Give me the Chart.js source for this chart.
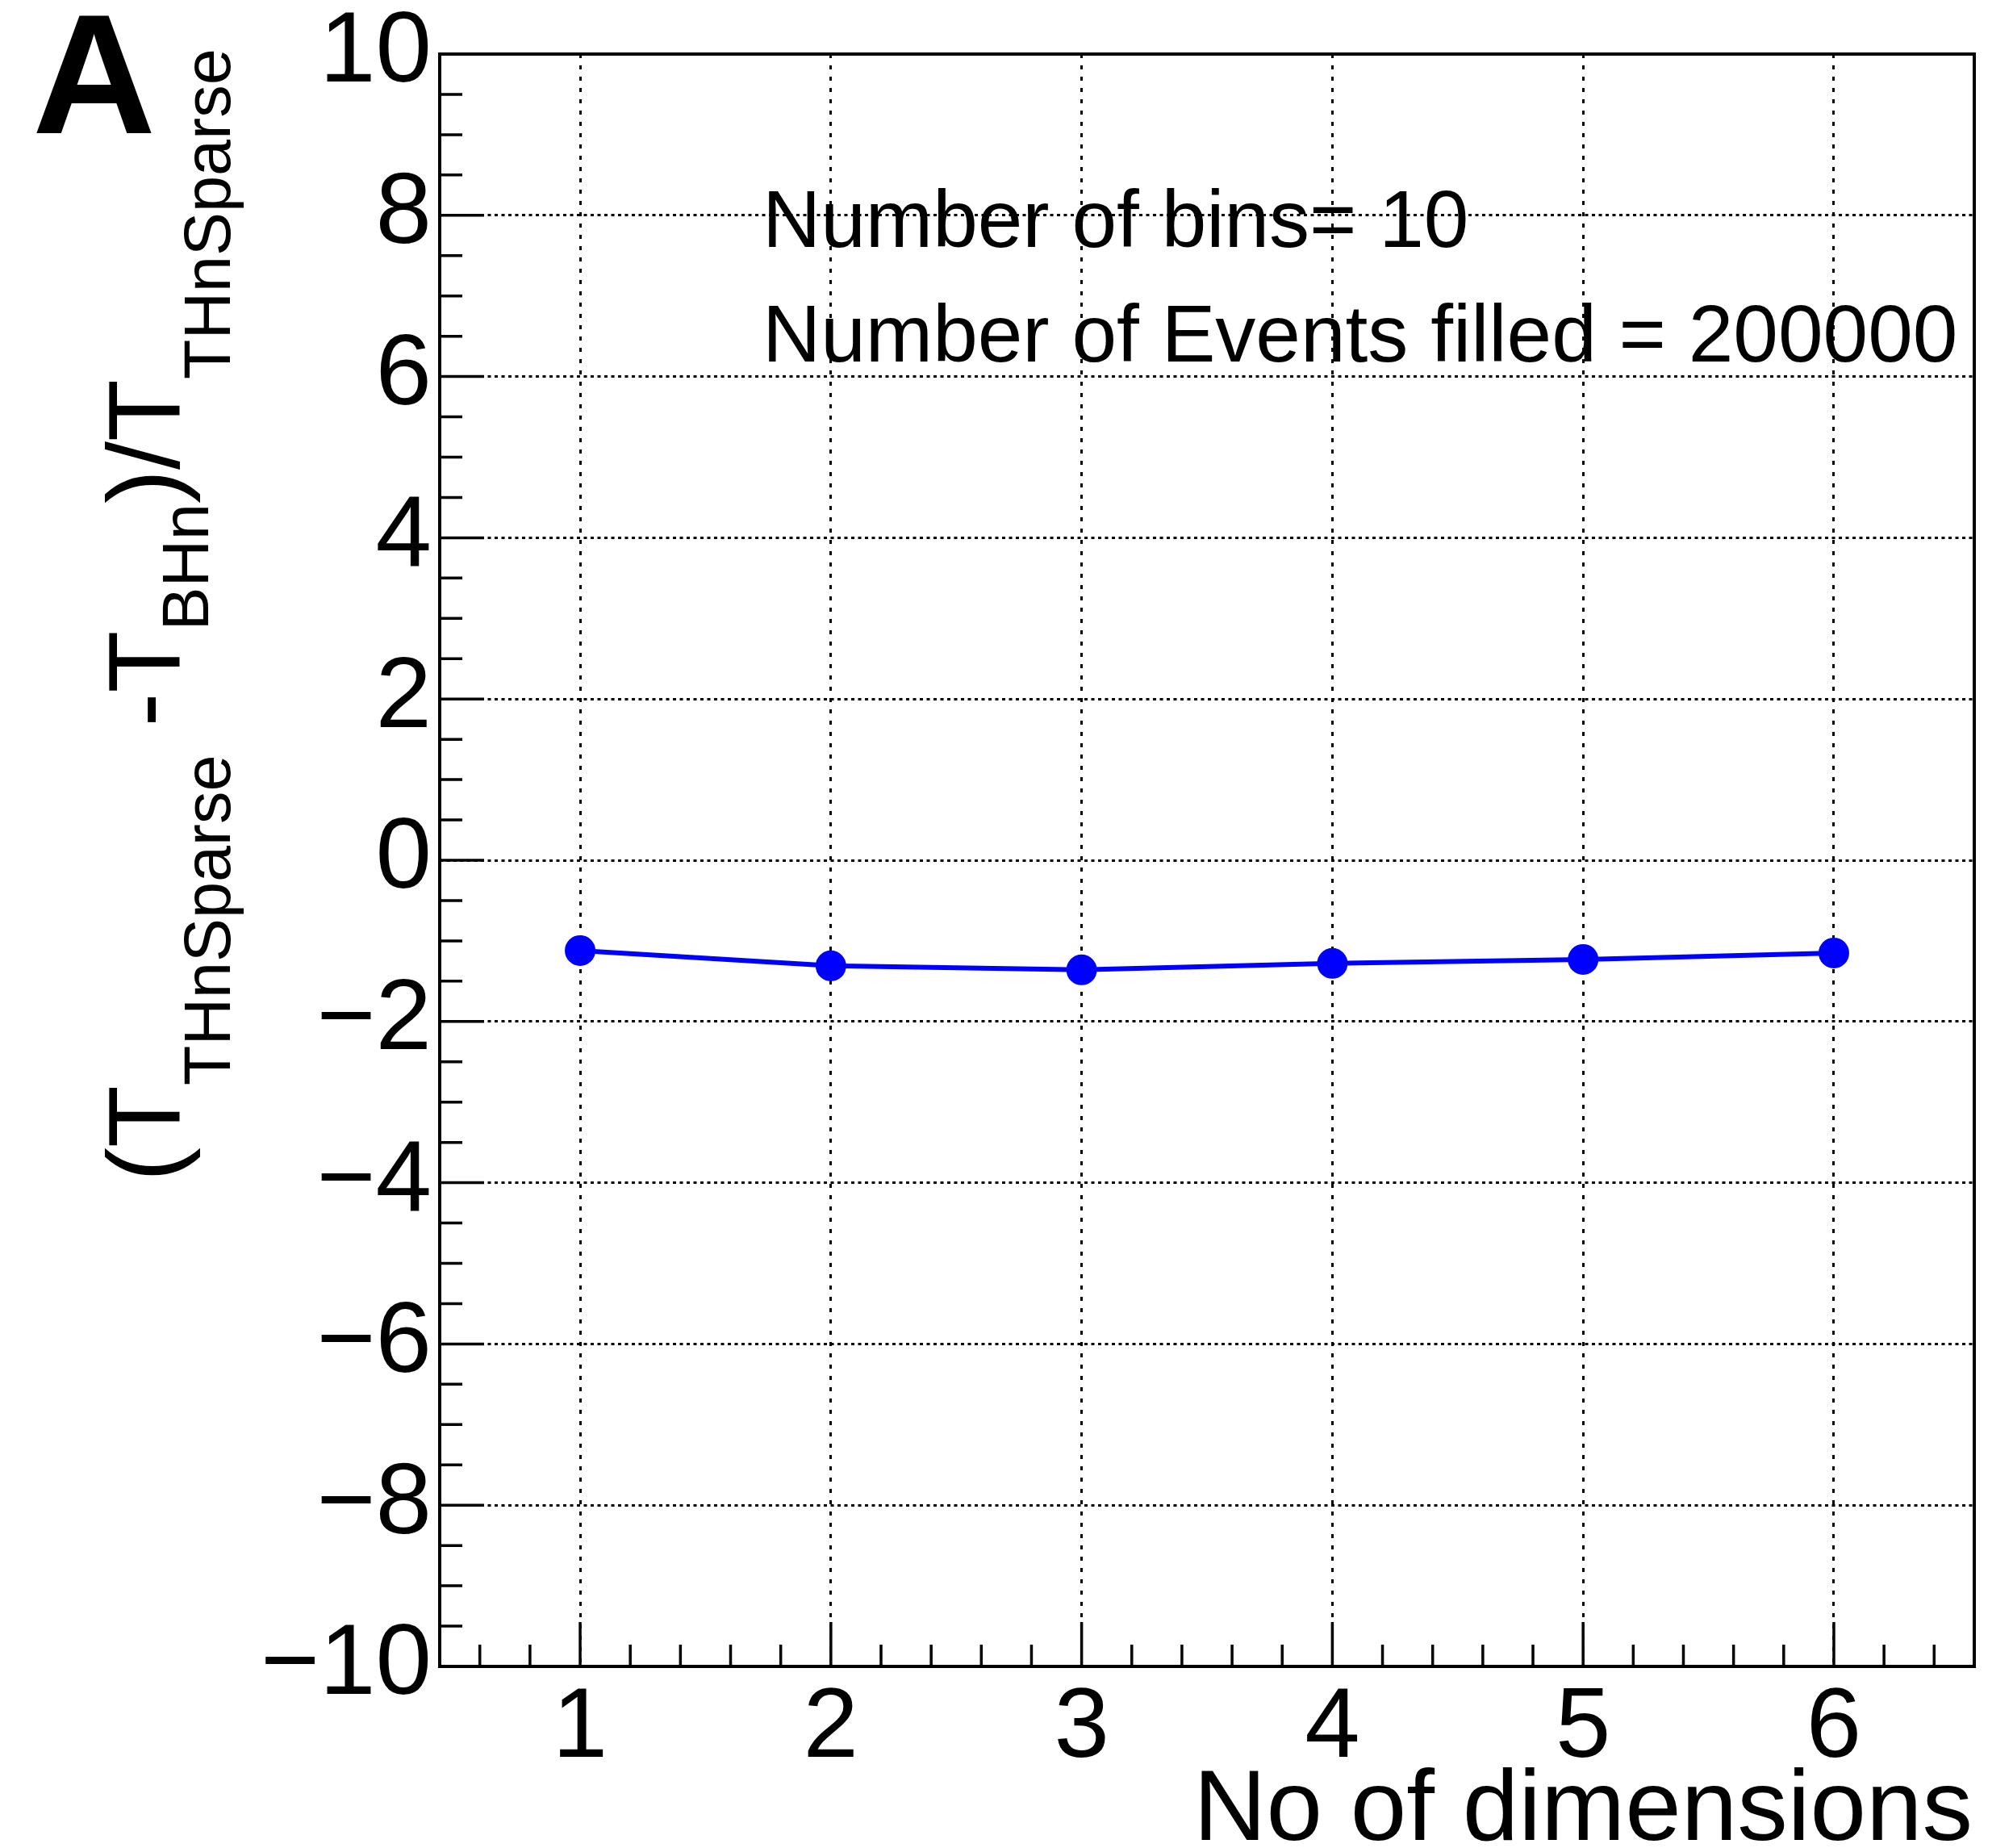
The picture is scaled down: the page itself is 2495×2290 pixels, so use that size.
<!DOCTYPE html>
<html>
<head>
<meta charset="utf-8">
<title>THnSparse vs BHn</title>
<script src="https://cdn.jsdelivr.net/npm/chart.js@4/dist/chart.umd.min.js"></script>
<style>
  html, body { margin: 0; padding: 0; background: #fff; }
  canvas { display: block; }
</style>
</head>
<body>
<canvas id="c" width="2495" height="2290"></canvas>
<script>
/* relative timing difference vs number of dimensions */

const dimensions = [1, 2, 3, 4, 5, 6];
const relDiff = [-1.12, -1.31, -1.36, -1.28, -1.23, -1.15];

const xTicks = [1, 2, 3, 4, 5, 6];
const yTicks = [-10, -8, -6, -4, -2, 0, 2, 4, 6, 8, 10];

const notes = ['Number of bins= 10', 'Number of Events filled = 200000'];
const xTitle = 'No of dimensions';
const panelLabel = 'A';

// y title pieces: text + level (0 main, 1/2 subscripts)
const yTitleParts = [
    ['(', 0], ['T', 0], ['THnSparse', 1], [' -', 0], ['T', 0], ['BHn', 2],
    [')', 0], ['/', 0], ['T', 0], ['THnSparse', 1]
];

const FONT = '"Liberation Sans", Arial, Helvetica, sans-serif';

const rootAxes = {
    id: 'rootAxes',
    afterDraw(chart) {
        const { ctx, chartArea: a, scales: { x, y } } = chart;
        ctx.save();

        // inward ticks, left + bottom only
        ctx.strokeStyle = '#000';
        ctx.lineWidth = 3.5;
        ctx.beginPath();
        for (let v = y.min; v <= y.max + 1e-9; v += 0.5) {
            const py = y.getPixelForValue(v);
            const len = Math.abs(v % 2) < 1e-9 ? 55 : 28;
            ctx.moveTo(a.left, py);
            ctx.lineTo(a.left + len, py);
        }
        for (let v = Math.ceil(x.min / 0.2) * 0.2; v <= x.max; v += 0.2) {
            const px = x.getPixelForValue(v);
            const major = Math.abs(v - Math.round(v)) < 1e-6;
            ctx.moveTo(px, a.bottom);
            ctx.lineTo(px, a.bottom - (major ? 55 : 27));
        }
        ctx.stroke();

        // frame
        ctx.lineWidth = 4;
        ctx.strokeRect(a.left, a.top, a.right - a.left, a.bottom - a.top);

        ctx.fillStyle = '#000';

        // annotation text
        ctx.font = '100px ' + FONT;
        ctx.textAlign = 'left';
        ctx.textBaseline = 'alphabetic';
        ctx.fillText(notes[0], a.left + 400, a.top + 239);
        ctx.fillText(notes[1], a.left + 400, a.top + 381);

        // x title
        ctx.font = '125px ' + FONT;
        ctx.textAlign = 'right';
        ctx.fillText(xTitle, a.right - 2, 2280);

        // panel label
        ctx.font = 'bold 212px ' + FONT;
        ctx.textAlign = 'left';
        ctx.fillText(panelLabel, 40, 165);

        // y title, rotated
        const lvl = [
            { size: 126, shift: 0 },
            { size: 81, shift: 63 },
            { size: 81, shift: 36 }
        ];
        ctx.translate(222, 1464);
        ctx.rotate(-Math.PI / 2);
        let s = 0;
        yTitleParts.forEach(([t, l]) => {
            ctx.font = lvl[l].size + 'px ' + FONT;
            ctx.fillText(t, s, lvl[l].shift);
            s += ctx.measureText(t).width;
        });

        ctx.restore();
    }
};

new Chart(document.getElementById('c'), {
    type: 'line',
    data: {
        datasets: [{
            data: dimensions.map((d, i) => ({ x: d, y: relDiff[i] })),
            borderColor: '#0000ff',
            backgroundColor: '#0000ff',
            borderWidth: 6,
            pointRadius: 19,
            pointBorderWidth: 0,
            tension: 0
        }]
    },
    options: {
        responsive: false,
        animation: false,
        devicePixelRatio: 1,
        layout: { padding: { top: 67, right: 48, left: 0, bottom: 0 } },
        plugins: { legend: { display: false }, tooltip: { enabled: false } },
        scales: {
            x: {
                type: 'linear',
                min: 0.44,
                max: 6.56,
                afterBuildTicks: s => { s.ticks = xTicks.map(v => ({ value: v })); },
                afterFit: s => { s.height = 225; s.paddingLeft = 0; s.paddingRight = 0; },
                ticks: {
                    color: '#000',
                    font: { family: FONT, size: 123 },
                    padding: 4,
                    autoSkip: false,
                    maxRotation: 0
                },
                grid: { color: '#000', lineWidth: 3, drawTicks: false },
                border: { display: false, dash: [5, 9] }
            },
            y: {
                min: -10,
                max: 10,
                afterBuildTicks: s => { s.ticks = yTicks.map(v => ({ value: v })); },
                afterFit: s => { s.width = 545; s.paddingTop = 0; s.paddingBottom = 0; },
                ticks: {
                    color: '#000',
                    font: { family: FONT, size: 125 },
                    padding: 10,
                    callback: v => v < 0 ? '\u2212' + Math.abs(v) : String(v)
                },
                grid: { color: '#000', lineWidth: 3, drawTicks: false },
                border: { display: false, dash: [4, 4.5] }
            }
        }
    },
    plugins: [rootAxes]
});
</script>
</body>
</html>
